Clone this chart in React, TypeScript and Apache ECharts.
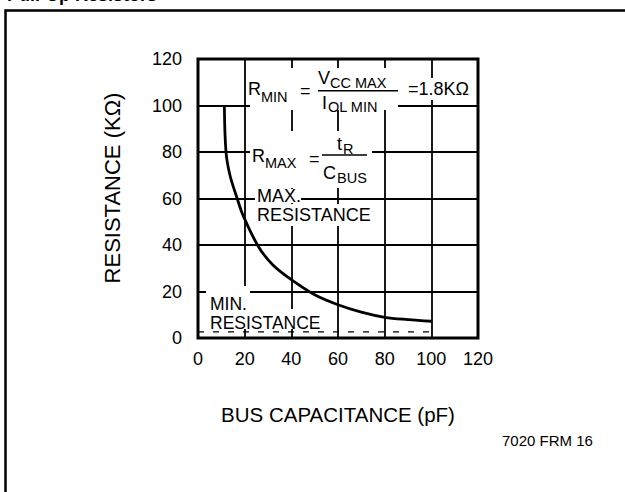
import React, { useEffect, useRef } from "react";
import * as echarts from "echarts";

// Max pull-up resistance curve (R = tR / Cbus)
const capacitancePF = [11.3, 12, 13.7, 16.8, 19.2, 25.8, 32, 40, 50, 60, 70, 80, 90, 100];
const resistanceK = [100, 80, 70, 60, 53, 39.5, 31.5, 25.1, 18.6, 14.3, 11.1, 8.9, 7.9, 7.2];

// Min pull-up resistance (dashed)
const minCapPF = [0, 100];
const minResK = [2.6, 2.6];

const FONT = "'Liberation Sans', Arial, Helvetica, sans-serif";

function txt(text: string, x: number, y: number, size: number, extra: any = {}) {
  return {
    type: "text",
    x,
    y,
    z: 101,
    silent: true,
    style: {
      text,
      fontSize: size,
      fontFamily: FONT,
      fill: "#000",
      align: "left",
      verticalAlign: "middle",
      ...extra,
    },
  };
}

function white(x: number, y: number, w: number, h: number) {
  return {
    type: "rect",
    z: 100,
    silent: true,
    shape: { x, y, width: w, height: h },
    style: { fill: "#fff" },
  };
}

function hline(x1: number, x2: number, y: number) {
  return {
    type: "line",
    z: 101,
    silent: true,
    shape: { x1, y1: y, x2, y2: y },
    style: { stroke: "#000", lineWidth: 1.4 },
  };
}

export default function App() {
  const ref = useRef<HTMLDivElement>(null);
  useEffect(() => {
    const chart = echarts.init(ref.current!, null, { renderer: "svg" });
    const maxData = capacitancePF.map((c, i) => [c, resistanceK[i]]);
    const minData = minCapPF.map((c, i) => [c, minResK[i]]);
    chart.setOption({
      animation: false,
      backgroundColor: "#fff",
      grid: {
        left: 198,
        top: 59,
        width: 280,
        height: 279,
        show: true,
        borderColor: "#000",
        borderWidth: 3,
        backgroundColor: "transparent",
      },
      xAxis: {
        type: "value",
        min: 0,
        max: 120,
        interval: 20,
        name: "BUS CAPACITANCE (pF)",
        nameLocation: "middle",
        nameGap: 66,
        nameTextStyle: { fontSize: 20.5, fontFamily: FONT, color: "#000" },
        axisLine: { show: false },
        axisTick: { show: false },
        axisLabel: { fontSize: 18, fontFamily: FONT, color: "#000", margin: 12 },
        splitLine: { show: true, lineStyle: { color: "#000", width: 1.8 } },
      },
      yAxis: {
        type: "value",
        min: 0,
        max: 120,
        interval: 20,
        axisLine: { show: false },
        axisTick: { show: false },
        axisLabel: { fontSize: 18, fontFamily: FONT, color: "#000", margin: 16 },
        splitLine: { show: true, lineStyle: { color: "#000", width: 1.8 } },
      },
      series: [
        {
          type: "line",
          data: maxData,
          smooth: 0.35,
          showSymbol: false,
          lineStyle: { color: "#000", width: 2.8 },
          z: 5,
        },
        {
          type: "line",
          data: minData,
          showSymbol: false,
          lineStyle: { color: "#000", width: 1.2, type: [6, 9] },
          z: 4,
        },
      ],
      graphic: [
        // outer frame
        {
          type: "rect",
          z: 90,
          silent: true,
          shape: { x: 5.5, y: 10.5, width: 700, height: 600 },
          style: { fill: "none", stroke: "#000", lineWidth: 2.5 },
        },
        // title (cut off at top)
        txt("Pull-Up Resistors", 7, 4, 18, { fontWeight: "bold", verticalAlign: "bottom" }),
        // y axis title
        {
          type: "text",
          x: 112,
          y: 188,
          rotation: Math.PI / 2,
          z: 101,
          silent: true,
          style: {
            text: "RESISTANCE (KΩ)",
            fontSize: 22,
            fontFamily: FONT,
            fill: "#000",
            align: "center",
            verticalAlign: "middle",
          },
        },
        // R_MIN block
        white(250, 68, 148, 42),
        txt("R", 248, 89, 18),
        txt("MIN", 261, 97, 14.5, { lineHeight: 13 }),
        txt("=", 300, 91, 18),
        txt("V", 318, 78, 18),
        txt("CC MAX", 330, 83, 14.5, { lineHeight: 13 }),
        hline(318, 398, 90.7),
        txt("I", 322, 103, 18),
        txt("OL MIN", 328, 107, 14.5, { lineHeight: 13 }),
        txt("=1.8KΩ", 407, 89, 18, { backgroundColor: "#fff", padding: [2, 1, 2, 1] }),
        // R_MAX block
        white(250, 131, 122, 57),
        txt("R", 252, 156, 18),
        txt("MAX", 265, 163, 14.5, { lineHeight: 13 }),
        txt("=", 309, 159, 18),
        txt("t", 337, 144, 18),
        txt("R", 343, 149, 14.5, { lineHeight: 13 }),
        hline(322, 367, 155),
        txt("C", 323, 173, 18),
        txt("BUS", 337, 178, 14.5, { lineHeight: 13 }),
        // MAX. RESISTANCE label
        white(255, 189, 46, 14),
        txt("MAX.", 257, 196, 18, { lineHeight: 15 }),
        white(255, 204, 119, 22),
        txt("RESISTANCE", 257, 215, 18, { lineHeight: 15 }),
        // MIN. RESISTANCE label
        white(206, 286, 44, 24),
        txt("MIN.", 210, 303.5, 17.5, { lineHeight: 13 }),
        white(206, 309, 120, 20),
        txt("RESISTANCE", 210, 322.5, 17.5, { lineHeight: 13 }),
        // figure id
        txt("7020 FRM 16", 502, 440, 15),
      ],
    });
    return () => chart.dispose();
  }, []);
  return (
    <div
      ref={ref}
      style={{ position: "fixed", left: 0, top: 0, width: 625, height: 492, background: "#fff" }}
    />
  );
}
